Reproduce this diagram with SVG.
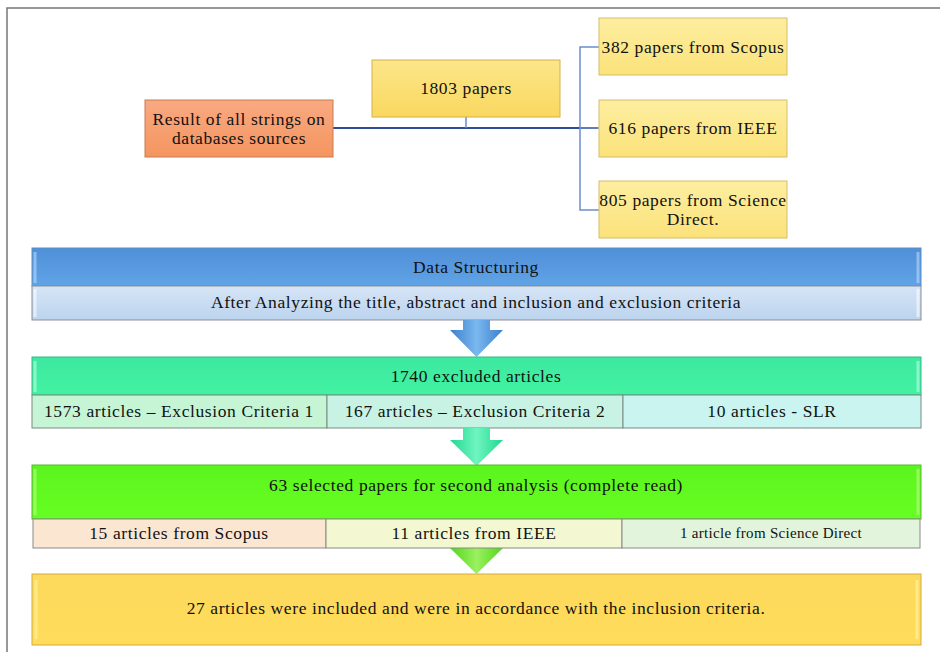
<svg xmlns="http://www.w3.org/2000/svg" width="940" height="652" viewBox="0 0 940 652">
<style>
text{font-family:"Liberation Serif","DejaVu Serif",serif;fill:#111;text-anchor:middle;dominant-baseline:central}
.t16{font-size:17.5px;letter-spacing:0.6px}
.t13{font-size:15px;letter-spacing:0.3px}
.edge{fill:none;stroke-width:3;opacity:0.55}
</style>
<defs>
<linearGradient id="gy" x1="0" y1="0" x2="0" y2="1"><stop offset="0" stop-color="#fde68a"/><stop offset="1" stop-color="#f9d860"/></linearGradient>
<linearGradient id="gyl" x1="0" y1="0" x2="0" y2="1"><stop offset="0" stop-color="#fdeea0"/><stop offset="1" stop-color="#fbe27a"/></linearGradient>
<linearGradient id="go" x1="0" y1="0" x2="0" y2="1"><stop offset="0" stop-color="#f9a982"/><stop offset="1" stop-color="#f4955f"/></linearGradient>
<linearGradient id="gb" x1="0" y1="0" x2="0" y2="1"><stop offset="0" stop-color="#4f8fd8"/><stop offset="1" stop-color="#60a3e6"/></linearGradient>
<linearGradient id="gbl" x1="0" y1="0" x2="0" y2="1"><stop offset="0" stop-color="#d6e5f6"/><stop offset="1" stop-color="#bcd4ee"/></linearGradient>
<linearGradient id="gg" x1="0" y1="0" x2="0" y2="1"><stop offset="0" stop-color="#3de8a0"/><stop offset="1" stop-color="#42f2a2"/></linearGradient>
<linearGradient id="gl" x1="0" y1="0" x2="0" y2="1"><stop offset="0" stop-color="#5cf41e"/><stop offset="1" stop-color="#66ff22"/></linearGradient>
<linearGradient id="gyy" x1="0" y1="0" x2="0" y2="1"><stop offset="0" stop-color="#fdd95c"/><stop offset="1" stop-color="#ffdc5a"/></linearGradient>
<linearGradient id="ab" x1="0" y1="0" x2="1" y2="0"><stop offset="0" stop-color="#3d7fcc"/><stop offset="0.5" stop-color="#7ab8f0"/><stop offset="1" stop-color="#3d7fcc"/></linearGradient>
<linearGradient id="ag" x1="0" y1="0" x2="1" y2="0"><stop offset="0" stop-color="#20d890"/><stop offset="0.5" stop-color="#6ff5c0"/><stop offset="1" stop-color="#20d890"/></linearGradient>
<linearGradient id="al" x1="0" y1="0" x2="1" y2="0"><stop offset="0" stop-color="#50d818"/><stop offset="0.5" stop-color="#9af060"/><stop offset="1" stop-color="#50d818"/></linearGradient>
</defs>
<rect width="940" height="652" fill="#fff"/>
<path d="M7,652 V8 H940" fill="none" stroke="#777" stroke-width="1.5"/>

<g id="connectors" fill="none">
<path d="M333,128 H598" stroke="#2e4c9a" stroke-width="2.2"/>
<path d="M466,117 V128" stroke="#6d8dcc" stroke-width="1.5"/>
<path d="M599,47 H580 V210 H599 M580,128 H599" stroke="#6d8dcc" stroke-width="1.5"/>
</g>

<g id="n-result">
<rect x="145" y="100" width="188" height="57" fill="url(#go)" stroke="#c97a52" stroke-width="1"/>
<text class="t16" x="239" y="119">Result of all strings on</text>
<text class="t16" x="239" y="138">databases sources</text>
</g>
<g id="n-1803">
<rect x="372" y="60" width="188" height="57" fill="url(#gy)" stroke="#d4b24a" stroke-width="1"/>
<text class="t16" x="466" y="88">1803 papers</text>
</g>
<g id="n-scopus">
<rect x="599" y="18" width="188" height="57" fill="url(#gyl)" stroke="#d9bd6a" stroke-width="1"/>
<text class="t16" x="693" y="47">382 papers from Scopus</text>
</g>
<g id="n-ieee">
<rect x="599" y="100" width="188" height="57" fill="url(#gyl)" stroke="#d9bd6a" stroke-width="1"/>
<text class="t16" x="693" y="128">616 papers from IEEE</text>
</g>
<g id="n-sd">
<rect x="599" y="181" width="188" height="57" fill="url(#gyl)" stroke="#d9bd6a" stroke-width="1"/>
<text class="t16" x="693" y="200">805 papers from Science</text>
<text class="t16" x="693" y="219">Direct.</text>
</g>

<g id="n-datastruct">
<rect x="32" y="248" width="889" height="38" fill="url(#gb)" stroke="#5f8fc4" stroke-width="1"/>
<path class="edge" d="M35,252 V283 M918,252 V283" stroke="#bfe0ff"/>
<text class="t16" x="476" y="267">Data Structuring</text>
</g>
<g id="n-after">
<rect x="32" y="286" width="889" height="34" fill="url(#gbl)" stroke="#8a8f99" stroke-width="1"/>
<path class="edge" d="M35,289 V317 M918,289 V317" stroke="#fff"/>
<text class="t16" x="476" y="302">After Analyzing the title, abstract and inclusion and exclusion criteria</text>
</g>
<g id="arrow1">
<path d="M463,320 H490 V330 H503 L476.5,357 L450,330 H463 Z" fill="url(#ab)"/>
</g>

<g id="n-1740">
<rect x="32" y="357" width="889" height="38" fill="url(#gg)" stroke="#3cb884" stroke-width="1"/>
<path class="edge" d="M35,361 V392 M918,361 V392" stroke="#c8fff0"/>
<text class="t16" x="476" y="376">1740 excluded articles</text>
</g>
<g id="n-ec1">
<rect x="32" y="395" width="295" height="33" fill="#c6f5d6" stroke="#7a8a80" stroke-width="1"/>
<text class="t16" x="179" y="411">1573 articles – Exclusion Criteria 1</text>
</g>
<g id="n-ec2">
<rect x="327" y="395" width="296" height="33" fill="#c8f3e4" stroke="#7a8a80" stroke-width="1"/>
<text class="t16" x="475" y="411">167 articles – Exclusion Criteria 2</text>
</g>
<g id="n-slr">
<rect x="623" y="395" width="298" height="33" fill="#c9f4ef" stroke="#7a8a80" stroke-width="1"/>
<text class="t16" x="772" y="411">10 articles - SLR</text>
</g>
<g id="arrow2">
<path d="M463,428 H490 V440 H503 L476.5,466 L450,440 H463 Z" fill="url(#ag)"/>
</g>

<g id="n-63">
<rect x="32" y="465" width="889" height="54" fill="url(#gl)" stroke="#58b830" stroke-width="1"/>
<path class="edge" d="M35,469 V515 M918,469 V515" stroke="#c0ff90"/>
<text class="t16" x="476" y="485">63 selected papers for second analysis (complete read)</text>
</g>
<g id="arrow3">
<path d="M463,548 H490 V548 H503 L476.5,574 L450,548 H463 Z" fill="url(#al)"/>
</g>
<g id="n-s15">
<rect x="33" y="519" width="293" height="29" fill="#fbe6d2" stroke="#8a8a86" stroke-width="1"/>
<text class="t16" x="179" y="533">15 articles from Scopus</text>
</g>
<g id="n-s11">
<rect x="326" y="519" width="296" height="29" fill="#f3f7d2" stroke="#8a8a86" stroke-width="1"/>
<text class="t16" x="474" y="533">11 articles from IEEE</text>
</g>
<g id="n-s1">
<rect x="622" y="519" width="298" height="29" fill="#e2f5dc" stroke="#8a8a86" stroke-width="1"/>
<text class="t13" x="771" y="533">1 article from Science Direct</text>
</g>

<g id="n-27">
<rect x="32" y="574" width="889" height="71" fill="url(#gyy)" stroke="#d2ac40" stroke-width="1"/>
<path class="edge" d="M36,580 V639 M917,580 V639" stroke="#fff6b0"/>
<text class="t16" x="476" y="608">27 articles were included and were in accordance with the inclusion criteria.</text>
</g>
</svg>
